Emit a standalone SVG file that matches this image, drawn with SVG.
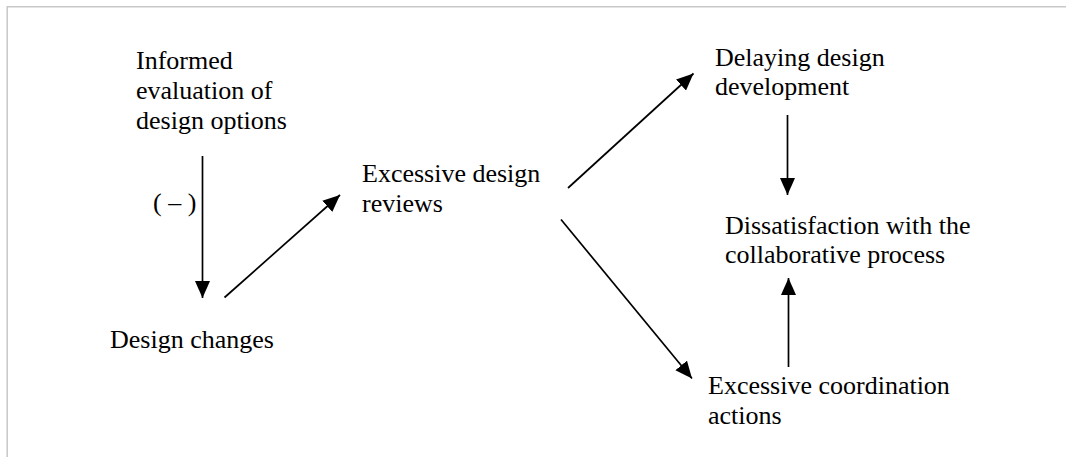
<svg xmlns="http://www.w3.org/2000/svg" width="1066" height="457" viewBox="0 0 1066 457">
  <style>
    .lbl { font-family: "Liberation Serif", "Times New Roman", serif; font-size: 26px; fill: #000; }
    .edge { stroke: #000; stroke-width: 1.7; fill: none; marker-end: url(#arrow); }
  </style>
  <defs>
    <marker id="arrow" markerUnits="userSpaceOnUse" markerWidth="20" markerHeight="16" refX="17" refY="7.5" orient="auto">
      <path d="M0,0 L17,7.5 L0,15 z" fill="#000"/>
    </marker>
  </defs>
  <rect width="1066" height="457" fill="#fff"/>
  <!-- frame -->
  <path d="M7.2,457 V6.8 H1066" fill="none" stroke="#c8c8c8" stroke-width="1.5"/>

  <g id="node-informed">
    <text class="lbl" x="136" y="69">Informed</text>
    <text class="lbl" x="136" y="99">evaluation of</text>
    <text class="lbl" x="136" y="129">design options</text>
  </g>
  <g id="node-design-changes">
    <text class="lbl" x="110" y="348">Design changes</text>
  </g>
  <g id="node-reviews">
    <text class="lbl" x="362" y="182">Excessive design</text>
    <text class="lbl" x="362" y="212">reviews</text>
  </g>
  <g id="node-delaying">
    <text class="lbl" x="715" y="66">Delaying design</text>
    <text class="lbl" x="715" y="95">development</text>
  </g>
  <g id="node-dissatisfaction">
    <text class="lbl" x="725" y="234">Dissatisfaction with the</text>
    <text class="lbl" x="725" y="263">collaborative process</text>
  </g>
  <g id="node-coordination">
    <text class="lbl" x="708" y="394">Excessive coordination</text>
    <text class="lbl" x="708" y="424">actions</text>
  </g>

  <g id="connectors">
    <line class="edge" x1="202.5" y1="156" x2="202.5" y2="298"/>
    <text class="lbl" x="153" y="211">( – )</text>
    <line class="edge" x1="224.5" y1="297.5" x2="340" y2="195"/>
    <line class="edge" x1="568" y1="188" x2="693.5" y2="73.5"/>
    <line class="edge" x1="561" y1="219.5" x2="692" y2="378.5"/>
    <line class="edge" x1="787.5" y1="115" x2="787.5" y2="195"/>
    <line class="edge" x1="788.5" y1="367" x2="788.5" y2="278"/>
  </g>
</svg>
